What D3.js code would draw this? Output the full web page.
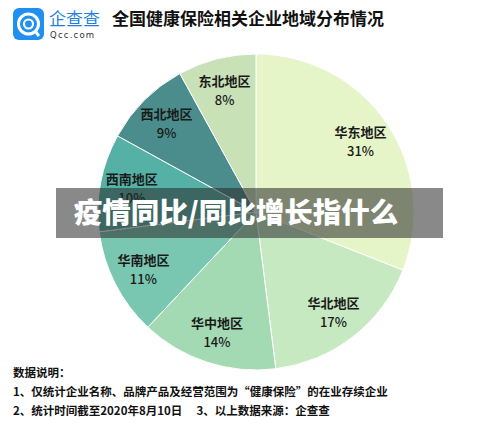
<!DOCTYPE html>
<html><head><meta charset="utf-8">
<script src="https://cdn.jsdelivr.net/npm/d3@7"></script>
<style>body{margin:0;background:#fff;}svg{display:block;font-family:"Noto Sans CJK SC","Noto Sans",sans-serif;}</style>
</head><body>
<svg id="c" width="500" height="427"></svg>
<script>
const regions = ["华东地区","华北地区","华中地区","华南地区","西南地区","西北地区","东北地区"];
const shares = [31,17,14,11,10,9,8];
const colors = ["#e5f5c8","#c6e9c1","#a4dab3","#79c7b0","#55b1a6","#4b8d8c","#c8e1b6"];
const notes = ["数据说明：","1、仅统计企业名称、品牌产品及经营范围为“健康保险”的在业存续企业","2、统计时间截至2020年8月10日　 3、以上数据来源：企查查"];

const svg = d3.select("#c");
const cx = 256, cy = 212, R = 158;

// header logo
const logo = svg.append("g");
logo.append("rect").attr("x",13).attr("y",8).attr("width",31).attr("height",32).attr("rx",6).attr("fill","#1f8ff0");
logo.append("circle").attr("cx",28.5).attr("cy",24).attr("r",10).attr("fill","none").attr("stroke","#fff").attr("stroke-width",3);
logo.append("circle").attr("cx",28.5).attr("cy",24).attr("r",4.5).attr("fill","none").attr("stroke","#fff").attr("stroke-width",2.2);
logo.append("line").attr("x1",35).attr("y1",31).attr("x2",39).attr("y2",36).attr("stroke","#fff").attr("stroke-width",3);
svg.append("text").attr("x",49).attr("y",25).attr("font-size",17).attr("fill","#1f7fe0").text("企查查");
svg.append("text").attr("x",50).attr("y",38).attr("font-size",8.5).attr("letter-spacing",1.2).attr("fill","#333").attr("font-family","DejaVu Sans").text("Qcc.com");
svg.append("text").attr("x",112).attr("y",25).attr("font-size",17).attr("font-weight",700).attr("fill","#111").text("全国健康保险相关企业地域分布情况");

// pie
const pie = d3.pie().sort(null).value(d=>d)(shares);
const arc = d3.arc().innerRadius(0).outerRadius(R);
const labelArc = d3.arc().innerRadius(R*0.8).outerRadius(R*0.8);
const g = svg.append("g").attr("transform",`translate(${cx},${cy})`);
g.selectAll("path").data(pie).join("path").attr("d",arc)
 .attr("fill",(d,i)=>colors[i]).attr("stroke","#fff").attr("stroke-width",1);
const lab = g.selectAll("g.l").data(pie).join("g").attr("class","l")
 .attr("transform",d=>`translate(${labelArc.centroid(d)})`);
lab.append("text").attr("text-anchor","middle").attr("y",-4).attr("font-size",13).attr("font-weight",700).attr("fill","#1a1a1a").text((d,i)=>regions[i]);
lab.append("text").attr("text-anchor","middle").attr("y",15).attr("font-size",13).attr("font-weight",500).attr("fill","#1a1a1a").text(d=>d.data+"%");

// banner
svg.append("rect").attr("x",56).attr("y",188).attr("width",387).attr("height",50).attr("fill","rgba(40,40,40,0.55)");
svg.append("text").attr("x",236).attr("y",223).attr("text-anchor","middle").attr("font-size",28.5).attr("font-weight",900).attr("fill","#fff").text("疫情同比/同比增长指什么");

// notes
svg.selectAll("text.n").data(notes).join("text").attr("class","n")
 .attr("x",13).attr("y",(d,i)=>377+i*19).attr("font-size",11.5).attr("font-weight",700).attr("fill","#111").text(d=>d);
</script>
</body></html>
